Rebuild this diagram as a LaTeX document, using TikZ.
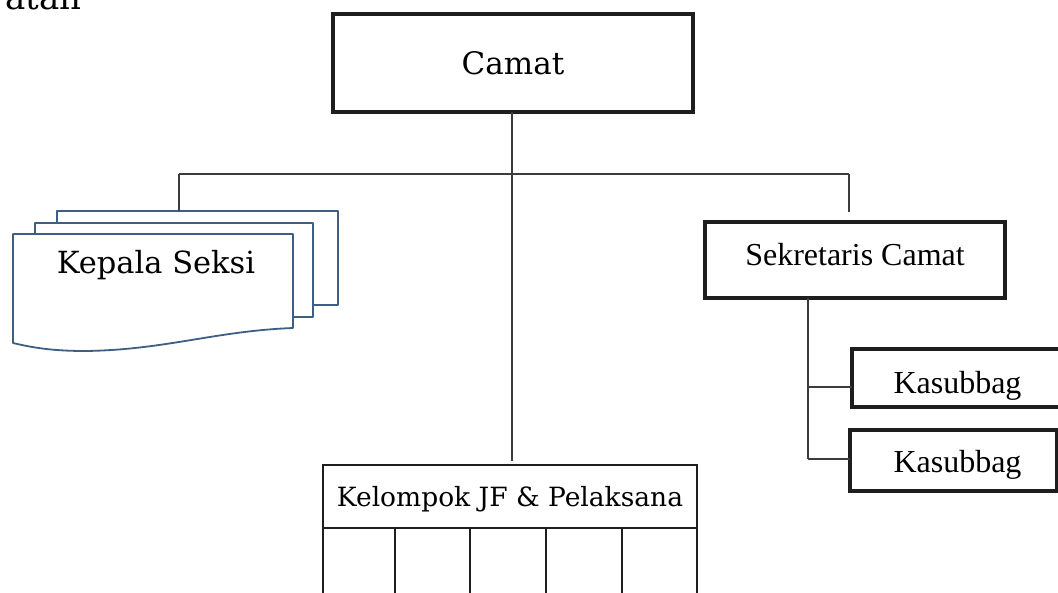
\documentclass[tikz,border=0pt]{standalone}
\usepackage{fontspec}
\setmainfont{DejaVu Serif}
\newfontfamily\timesf{Liberation Serif}
\definecolor{seksiblue}{RGB}{62,94,132}
\definecolor{ink}{RGB}{30,30,30}
\definecolor{lineink}{RGB}{60,60,60}
\begin{document}
\begin{tikzpicture}[x=1pt,y=-1pt,
  box/.style={draw=ink, line width=3.3pt, inner sep=0pt, outer sep=0pt},
  thinbox/.style={draw=ink, line width=2pt, inner sep=0pt, outer sep=0pt},
  conn/.style={draw=lineink, line width=1.5pt},
  page/.style={draw=seksiblue, line width=1.8pt, fill=white, line join=round},
  lbl/.style={anchor=base, inner sep=0pt},
  bigserif/.style={font=\fontsize{31}{36}\selectfont},
  midserif/.style={font=\fontsize{30.5}{34}\selectfont},
  smallserif/.style={font=\fontsize{26.5}{30}\selectfont},
  timeslbl/.style={font=\timesf\fontsize{32}{36}\selectfont}]
\useasboundingbox (0,0) rectangle (1058,592);
\clip (0,0) rectangle (1058,592);

% partial heading text at top-left
\node[lbl, anchor=base east, font=\fontsize{34}{36}\selectfont] (head) at (82,9) {atan};

% Camat
\node[box, minimum width=360pt, minimum height=98pt] (camat) at (513,63) {};
\node[lbl, bigserif] (camatlbl) at (513,74) {Camat};

% Sekretaris Camat
\node[box, minimum width=300pt, minimum height=76pt] (sek) at (855,260) {};
\node[lbl, timeslbl] (seklbl) at (855,265) {Sekretaris Camat};

% Kasubbag boxes
\node[box, minimum width=211pt, minimum height=58pt] (kas1) at (957.5,378) {};
\node[lbl, timeslbl] (kas1lbl) at (957.5,393) {Kasubbag};
\node[box, minimum width=207pt, minimum height=61pt] (kas2) at (953.5,460.5) {};
\node[lbl, timeslbl] (kas2lbl) at (957.5,472) {Kasubbag};

% Kelompok JF & Pelaksana
\node[thinbox, minimum width=374pt, minimum height=63pt] (kel) at (510,496.5) {};
\node[lbl, smallserif] (kellbl) at (510,506) {Kelompok JF \& Pelaksana};
\coordinate (kelbl) at (323,600);
\coordinate (kelbr) at (697,600);
\draw[ink, line width=2pt] (kel.south west) -- (kelbl);
\draw[ink, line width=2pt] (kel.south east) -- (kelbr);
\foreach \cx in {395,470,546,622} {
  \draw[ink, line width=1.7pt] (\cx,528) -- (\cx,600);
}

% Kepala Seksi stacked pages
\draw[page] (57,211) rectangle (338,305);
\draw[page] (35,223) rectangle (313,317);
\draw[page] (13,234) -- (293,234) -- (293,328)
  .. controls (215,331) and (165,350) .. (85,351)
  .. controls (50,351) and (30,347) .. (13,343) -- cycle;
\node[lbl, midserif] (kslbl) at (156,273) {Kepala Seksi};
\coordinate (kstop) at (179,211);

% connectors
\coordinate (busL) at (179,174);
\coordinate (busM) at (512,174);
\coordinate (busR) at (849,174);
\coordinate (sektop) at (849,212);
\coordinate (kelin) at (512,461);
\draw[conn] (camat.south -| busM) -- (kelin);
\draw[conn] (busL) -- (busR);
\draw[conn] (busL) -- (kstop);
\draw[conn] (busR) -- (sektop);

\coordinate (sekdown) at (808,298);
\coordinate (br1) at (808,387);
\coordinate (br2) at (808,459);
\draw[conn] (sekdown) -- (br2);
\draw[conn] (br1) -- (br1 -| kas1.west);
\draw[conn] (br2) -- (br2 -| kas2.west);
\end{tikzpicture}
\end{document}
